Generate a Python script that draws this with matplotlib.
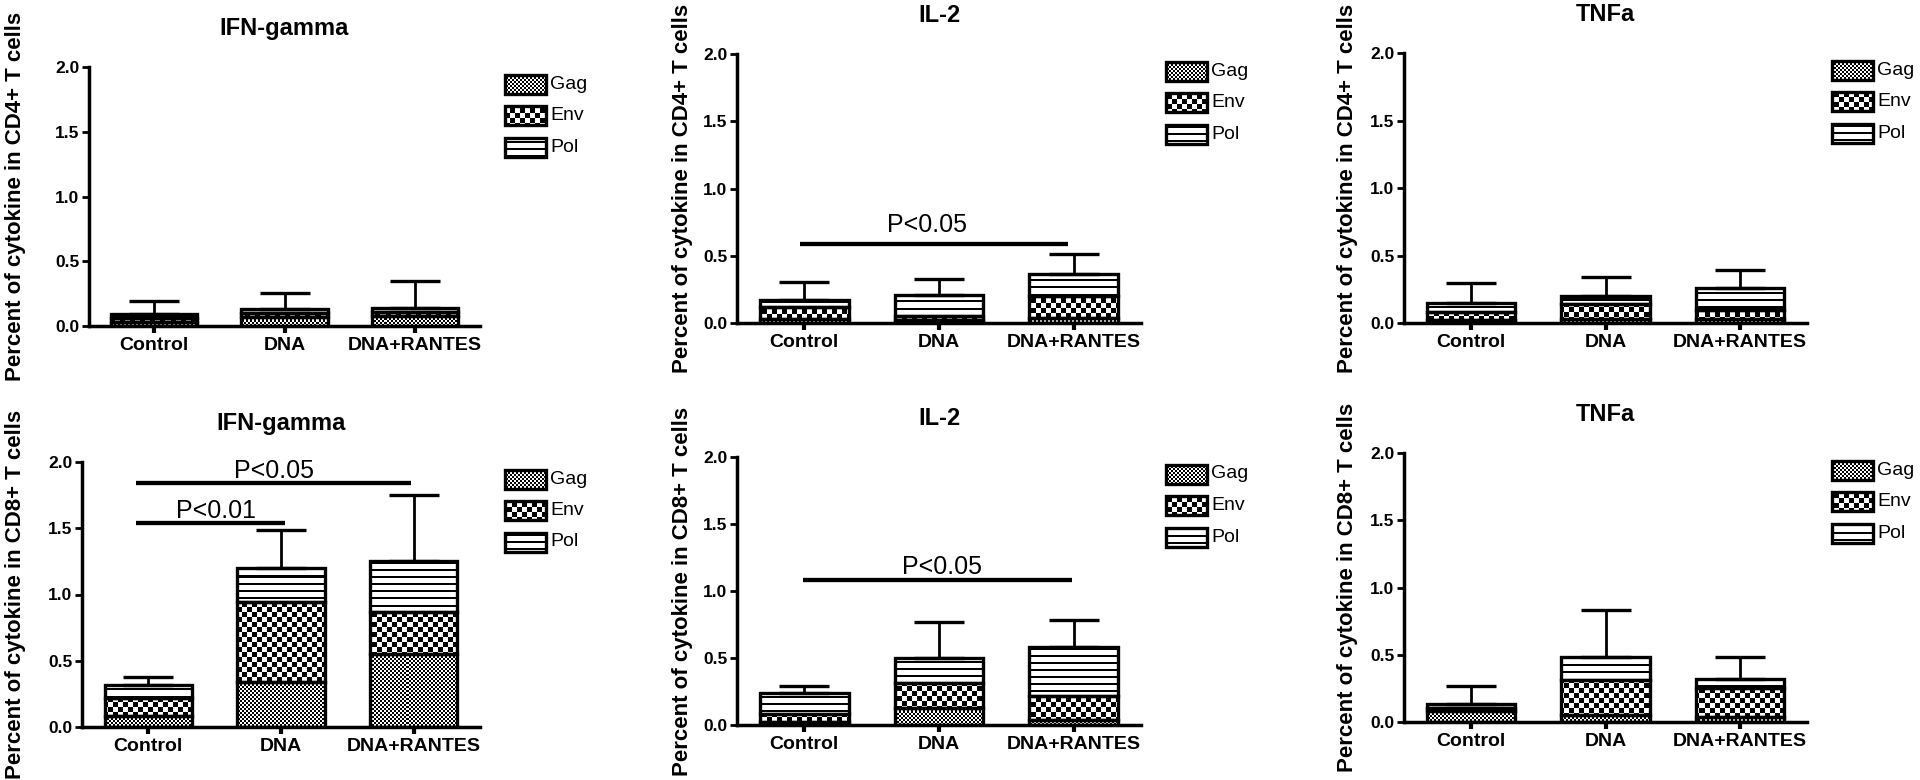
import numpy as np
import matplotlib
matplotlib.use('Agg')
import matplotlib.pyplot as plt
from matplotlib.image import AxesImage
from matplotlib.patches import Rectangle

plt.rcParams['font.family'] = ['Liberation Sans', 'DejaVu Sans']

# ---------------- data ----------------
groups = ['Control', 'DNA', 'DNA+RANTES']
antigens = ['Gag', 'Env', 'Pol']
cytokines = ['IFN-gamma', 'IL-2', 'TNFa']
cell_labels = ['Percent of cytokine in CD4+ T cells',
               'Percent of cytokine in CD8+ T cells']

# CD4+ T cells
cd4_ifn_gag = [0.03, 0.07, 0.08]
cd4_ifn_env = [0.03, 0.03, 0.03]
cd4_ifn_pol = [0.03, 0.03, 0.03]
cd4_ifn_sem = [0.10, 0.125, 0.21]

cd4_il2_gag = [0.03, 0.02, 0.035]
cd4_il2_env = [0.09, 0.03, 0.165]
cd4_il2_pol = [0.05, 0.155, 0.165]
cd4_il2_sem = [0.135, 0.12, 0.145]

cd4_tnf_gag = [0.02, 0.03, 0.03]
cd4_tnf_env = [0.06, 0.11, 0.07]
cd4_tnf_pol = [0.065, 0.06, 0.16]
cd4_tnf_sem = [0.155, 0.14, 0.13]

# CD8+ T cells
cd8_ifn_gag = [0.08, 0.34, 0.55]
cd8_ifn_env = [0.14, 0.60, 0.32]
cd8_ifn_pol = [0.095, 0.26, 0.38]
cd8_ifn_sem = [0.065, 0.29, 0.50]

cd8_il2_gag = [0.025, 0.124, 0.04]
cd8_il2_env = [0.055, 0.186, 0.176]
cd8_il2_pol = [0.16, 0.19, 0.364]
cd8_il2_sem = [0.05, 0.265, 0.20]

cd8_tnf_gag = [0.08, 0.05, 0.04]
cd8_tnf_env = [0.025, 0.26, 0.21]
cd8_tnf_pol = [0.03, 0.17, 0.07]
cd8_tnf_sem = [0.13, 0.355, 0.16]

panel_data = [
    (cd4_ifn_gag, cd4_ifn_env, cd4_ifn_pol, cd4_ifn_sem),
    (cd4_il2_gag, cd4_il2_env, cd4_il2_pol, cd4_il2_sem),
    (cd4_tnf_gag, cd4_tnf_env, cd4_tnf_pol, cd4_tnf_sem),
    (cd8_ifn_gag, cd8_ifn_env, cd8_ifn_pol, cd8_ifn_sem),
    (cd8_il2_gag, cd8_il2_env, cd8_il2_pol, cd8_il2_sem),
    (cd8_tnf_gag, cd8_tnf_env, cd8_tnf_pol, cd8_tnf_sem),
]

# significance annotations: (x_start, x_end, y_line, label, text_x, text_y)
sig_annotations = {
    1: [(-0.03, 1.96, 0.59, 'P<0.05', 0.91, 0.68)],
    3: [(-0.09, 1.98, 1.84, 'P<0.05', 0.95, 1.88),
        (-0.09, 1.03, 1.54, 'P<0.01', 0.51, 1.58)],
    4: [(-0.01, 1.99, 1.08, 'P<0.05', 1.02, 1.13)],
}

y_ticks = [0.0, 0.5, 1.0, 1.5, 2.0]
y_tick_labels = ['0.0', '0.5', '1.0', '1.5', '2.0']

# ---------------- layout ----------------
FIG_W, FIG_H = 1920, 780
fig = plt.figure(figsize=(FIG_W / 100, FIG_H / 100), dpi=100)

# axes boxes in pixels: (left, top, right, bottom)
boxes = [(89, 67, 480, 326), (737, 54, 1141, 323), (1404, 53, 1807, 323),
         (82, 462, 480, 727), (737, 457, 1141, 725), (1404, 453, 1807, 722)]
ylabel_off = [63, 44, 46, 56, 44, 46]


def make_texture(kind, h, w):
    yy, xx = np.mgrid[0:h, 0:w]
    if kind == 'Gag':
        return ((yy // 2 + xx // 2) % 2).astype(float)
    if kind == 'Env':
        return ((yy // 5 + xx // 5) % 2).astype(float)
    return ((yy % 7) >= 2).astype(float)


TEX_EXT = (-0.1, 1.4, -0.1, 1.15)


def add_texture(ax, kind, clip_rect, axw, axh, zorder=2):
    w = int(round((TEX_EXT[1] - TEX_EXT[0]) * axw))
    h = int(round((TEX_EXT[3] - TEX_EXT[2]) * axh))
    arr = make_texture(kind, h, w)
    im = AxesImage(ax, cmap='gray', interpolation='nearest',
                   extent=TEX_EXT, transform=ax.transAxes, zorder=zorder)
    im.set_data(arr)
    im.set_clim(0, 1)
    ax.add_image(im)
    im.set_clip_path(clip_rect)
    return im


EDGE_LW = 2.4
BAR_W = 0.66

for i, (l, t, r, b) in enumerate(boxes):
    axw, axh = r - l, b - t
    ax = fig.add_axes([l / FIG_W, 1 - b / FIG_H, axw / FIG_W, axh / FIG_H])
    gag, env, pol, sem = panel_data[i]
    x = np.arange(len(groups))
    bottoms = np.zeros(len(groups))
    for name, vals in zip(antigens, (gag, env, pol)):
        vals = np.asarray(vals)
        bars = ax.bar(x, vals, BAR_W, bottom=bottoms, facecolor='none',
                      edgecolor='black', linewidth=EDGE_LW, zorder=3)
        for rect in bars:
            add_texture(ax, name, rect, axw, axh)
        bottoms = bottoms + vals
    ax.errorbar(x, bottoms, yerr=[np.zeros(len(groups)), sem], fmt='none',
                ecolor='black', elinewidth=2.0, capsize=18, capthick=2.4,
                zorder=4)

    ax.set_xlim(-0.5, 2.5)
    ax.set_ylim(0, 2.0)
    ax.set_xticks(x)
    ax.set_xticklabels(groups, fontsize=14, fontweight='bold')
    ax.set_yticks(y_ticks)
    ax.set_yticklabels(y_tick_labels, fontsize=12.5, fontweight='bold')
    ax.tick_params(axis='y', length=5, width=2, pad=2)
    ax.tick_params(axis='x', length=5, width=3, pad=3)
    for s in ('top', 'right'):
        ax.spines[s].set_visible(False)
    for s in ('left', 'bottom'):
        ax.spines[s].set_linewidth(2.5)

    ax.set_title(cytokines[i % 3], fontsize=17, fontweight='bold', pad=23)
    ax.set_ylabel(cell_labels[i // 3], fontsize=16, fontweight='bold')
    ax.yaxis.set_label_coords(-ylabel_off[i] / axw, 0.5)

    # legend
    for k, name in enumerate(antigens):
        cy = 1 - (17 + 31.5 * k) / axh
        x0 = 1 + 25 / axw
        wd = 41 / axw
        hg = 19 / axh
        rect = Rectangle((x0, cy - hg / 2), wd, hg, transform=ax.transAxes,
                         facecolor='none', edgecolor='black',
                         linewidth=EDGE_LW, clip_on=False, zorder=6)
        ax.add_patch(rect)
        add_texture(ax, name, rect, axw, axh, zorder=5)
        ax.text(x0 + wd + 4 / axw, cy, name, transform=ax.transAxes,
                ha='left', va='center', fontsize=14)

    # significance bars
    for (xs, xe, yl, lab, tx, ty) in sig_annotations.get(i, []):
        ax.plot([xs, xe], [yl, yl], color='black', lw=3.1,
                solid_capstyle='butt', clip_on=False, zorder=5)
        ax.text(tx, ty, lab, ha='center', va='baseline', fontsize=18)

fig.savefig('out.png', dpi=100, facecolor='white')
